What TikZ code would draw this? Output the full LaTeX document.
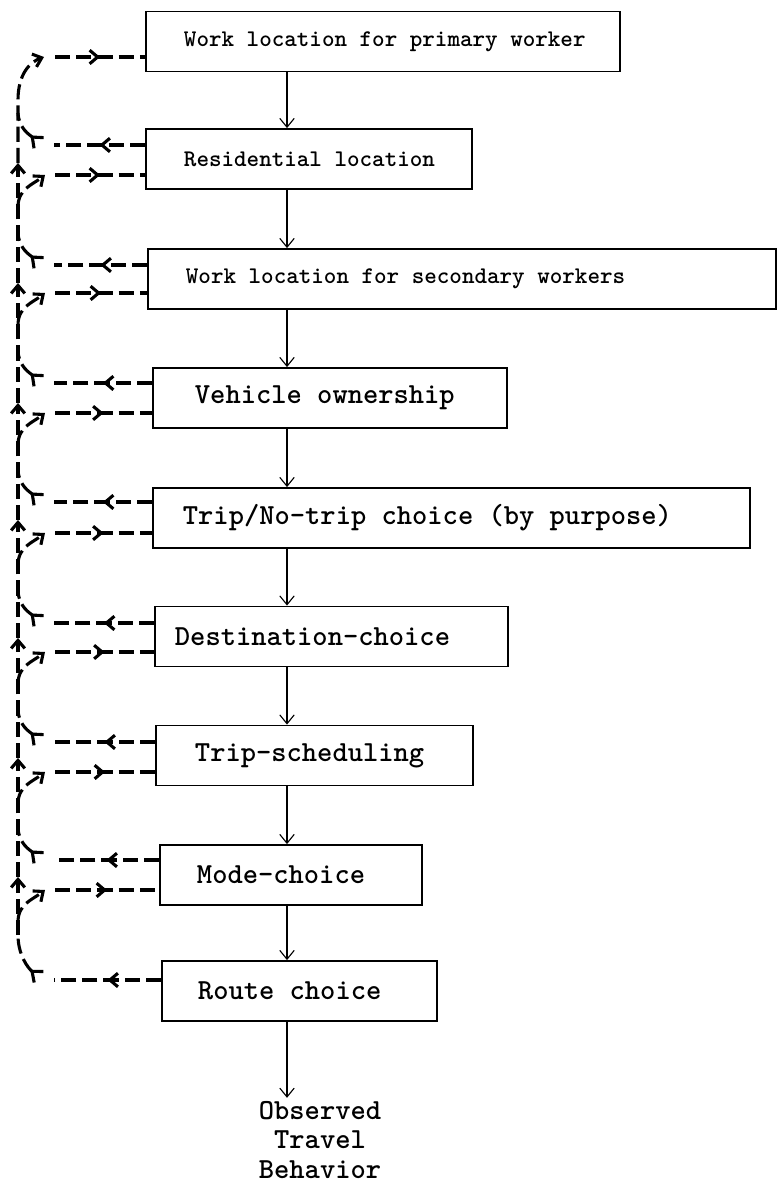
\documentclass[tikz,border=0pt]{standalone}
\usepackage{fontspec}
\usetikzlibrary{arrows.meta, positioning, calc, decorations.markings}

\begin{document}
\begin{tikzpicture}[
    x=0.025cm, y=-0.025cm,
    stage/.style={rectangle, draw=black, line width=1.3pt, minimum height=1.5cm, inner ysep=0pt, inner xsep=0.95cm, font=\ttfamily\bfseries\fontsize{20.7}{24}\selectfont},
    stagesm/.style={stage, font=\ttfamily\bfseries\fontsize{17}{20}\selectfont},
    flow/.style={-{Straight Barb[length=2.2mm, width=3.6mm]}, line width=0.8pt},
    fb/.style={line width=2.2pt, dash pattern=on 0.38cm off 0.15cm},
    fbhead/.style={-{Straight Barb[length=2mm, width=3.4mm]}},
    fbback/.style={{Straight Barb[reversed, length=2.2mm, width=3.6mm]}-},
    midarr/.style={postaction={decorate}, decoration={markings, mark=at position 0.5 with {\arrow{Straight Barb[length=2mm, width=3.4mm]}}}}
]
    \useasboundingbox (0,0) rectangle (780,1191);

    % Stages
    \node[stagesm] (r1) at (383,41.5) {\makebox[9.95cm][l]{Work location for primary worker}};
    \node[stagesm] (r2) at (309,159) {\makebox[6.25cm][l]{Residential location}};
    \node[stagesm] (r3) at (462,279) {\makebox[13.8cm][l]{Work location for secondary workers}};
    \node[stage, inner xsep=1.05cm] (r4) at (330,398) {\makebox[6.75cm][l]{Vehicle ownership}};
    \node[stage, inner xsep=0.75cm] (r5) at (451.5,518) {\makebox[13.425cm][l]{Trip/No-trip choice (by purpose)}};
    \node[stage, inner xsep=0.5cm] (r6) at (331.5,636.5) {\makebox[7.825cm][l]{Destination-choice}};
    \node[stage, inner xsep=0.975cm] (r7) at (314.5,755.5) {\makebox[5.975cm][l]{Trip-scheduling}};
    \node[stage, inner xsep=0.925cm] (r8) at (291,875) {\makebox[4.7cm][l]{Mode-choice}};
    \node[stage, inner xsep=0.9cm] (r9) at (299.5,991) {\makebox[5.075cm][l]{Route choice}};
    \node[font=\ttfamily\bfseries\fontsize{20.7}{21.3}\selectfont, align=center, inner sep=2pt] (obs) at (320,1140) {Observed\\Travel\\Behavior};

    % Sequence
    \coordinate (spine) at (287,0);
    \foreach \a/\b in {r1/r2, r2/r3, r3/r4, r4/r5, r5/r6, r6/r7, r7/r8, r8/r9, r9/obs}
        \draw[flow] (\a.south -| spine) -- (\b.north -| spine);

    % Feedback trunk
    \foreach \ya/\yb in {935/877, 877/758, 758/638, 638/520, 520/403, 403/283, 283/163}
        \draw[fb, fbhead] (18,\ya) -- (18,\yb);
    \draw[fb, fbhead] (18,163) -- (18,100) .. controls (18,74) and (30,62) .. (44,57);
    \draw[fb, midarr] (55,57) -- (r1.west |- 0,57);

    % Feedback to and from each stage
    \foreach \n/\yo/\yi in {r2/145/175, r3/265/293, r4/383/413, r5/502/533, r6/623/652, r7/742/772, r8/860/890}{
        \draw[fb, midarr] (\n.west |- 0,\yo) -- (54,\yo);
        \draw[fb, fbback] (40,{\yo-1}) .. controls (30,{\yo-10}) and (19,{\yo-16}) .. (18,{\yo-32});
        \draw[fb, fbhead] (18,{\yi+32}) .. controls (18,{\yi+14}) and (32,{\yi+10}) .. (45,\yi);
        \draw[fb, midarr] (55,\yi) -- (\n.west |- 0,\yi);
    }
    \draw[fb, midarr] (r9.west |- 0,980) -- (54,980);
    \draw[fb, fbback] (40,978) .. controls (28,968) and (18,955) .. (18,935);
\end{tikzpicture}
\end{document}
